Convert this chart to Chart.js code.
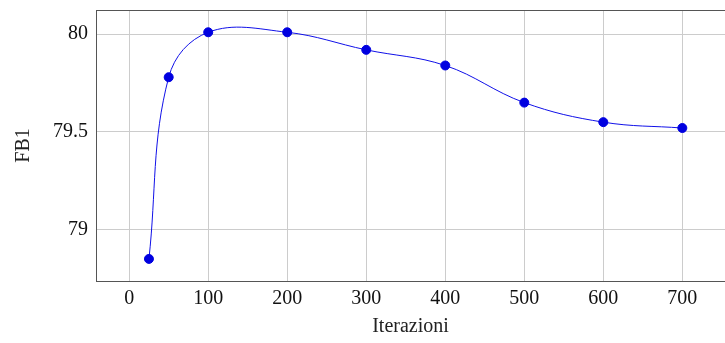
<!DOCTYPE html>
<html>
<head>
<meta charset="utf-8">
<script src="https://cdn.jsdelivr.net/npm/chart.js@4/dist/chart.umd.min.js"></script>
<style>
  html, body { margin: 0; padding: 0; background: #fff; }
  #wrap { width: 725px; height: 343px; }
</style>
</head>
<body>
<div id="wrap"><canvas id="myChart" width="725" height="343"></canvas></div>
<script>
const iterations = [25, 50, 100, 200, 300, 400, 500, 600, 700];
const fb1 = [78.85, 79.78, 80.01, 80.01, 79.92, 79.84, 79.65, 79.55, 79.52];
const xTicks = [0, 100, 200, 300, 400, 500, 600, 700];
const yTicks = [79, 79.5, 80];

const ctx = document.getElementById("myChart");
const font = { family: "'Liberation Serif', 'DejaVu Serif', serif", size: 20 };

// box around the plot area, like pgfplots
const frame = {
  id: "frame",
  afterDraw(chart) {
    const a = chart.chartArea, c = chart.ctx;
    c.save();
    c.strokeStyle = "#555";
    c.lineWidth = 1;
    c.strokeRect(a.left + 0.5, a.top + 0.5, a.right - a.left, a.bottom - a.top);
    c.restore();
  }
};

new Chart(ctx, {
  type: "line",
  data: {
    datasets: [{
      data: iterations.map((x, i) => ({ x: x, y: fb1[i] })),
      borderColor: "#1010e8",
      borderWidth: 1,
      backgroundColor: "#0000e0",
      pointBackgroundColor: "#0000e0",
      pointBorderColor: "#0000e0",
      pointRadius: 4.5,
      tension: 0.38,
      fill: false
    }]
  },
  options: {
    responsive: false,
    animation: false,
    layout: { autoPadding: false, padding: { top: 10, right: 0, left: 0, bottom: 0 } },
    plugins: { legend: { display: false }, tooltip: { enabled: false } },
    scales: {
      x: {
        type: "linear",
        min: -42,
        max: 754,
        afterBuildTicks: (s) => { s.ticks = xTicks.map(v => ({ value: v })); },
        afterFit: (s) => { s.height = 62; s.paddingLeft = 0; s.paddingRight = 0; },
        grid: { color: "#cccccc", drawTicks: false },
        border: { color: "#555" },
        ticks: { color: "#111", font: font, padding: 6, maxRotation: 0 },
        title: { display: true, text: "Iterazioni", color: "#222", font: font, padding: { top: 2 } }
      },
      y: {
        min: 78.737,
        max: 80.124,
        afterBuildTicks: (s) => { s.ticks = yTicks.map(v => ({ value: v })); },
        afterFit: (s) => { s.width = 96; s.paddingTop = 0; s.paddingBottom = 0; },
        grid: { color: "#cccccc", drawTicks: false },
        border: { color: "#555" },
        ticks: { color: "#111", font: font, padding: 8, callback: (v) => String(v) },
        title: { display: true, text: "FB1", color: "#222", font: font, padding: { top: 12, bottom: 0 } }
      }
    }
  },
  plugins: [frame]
});
</script>
</body>
</html>
